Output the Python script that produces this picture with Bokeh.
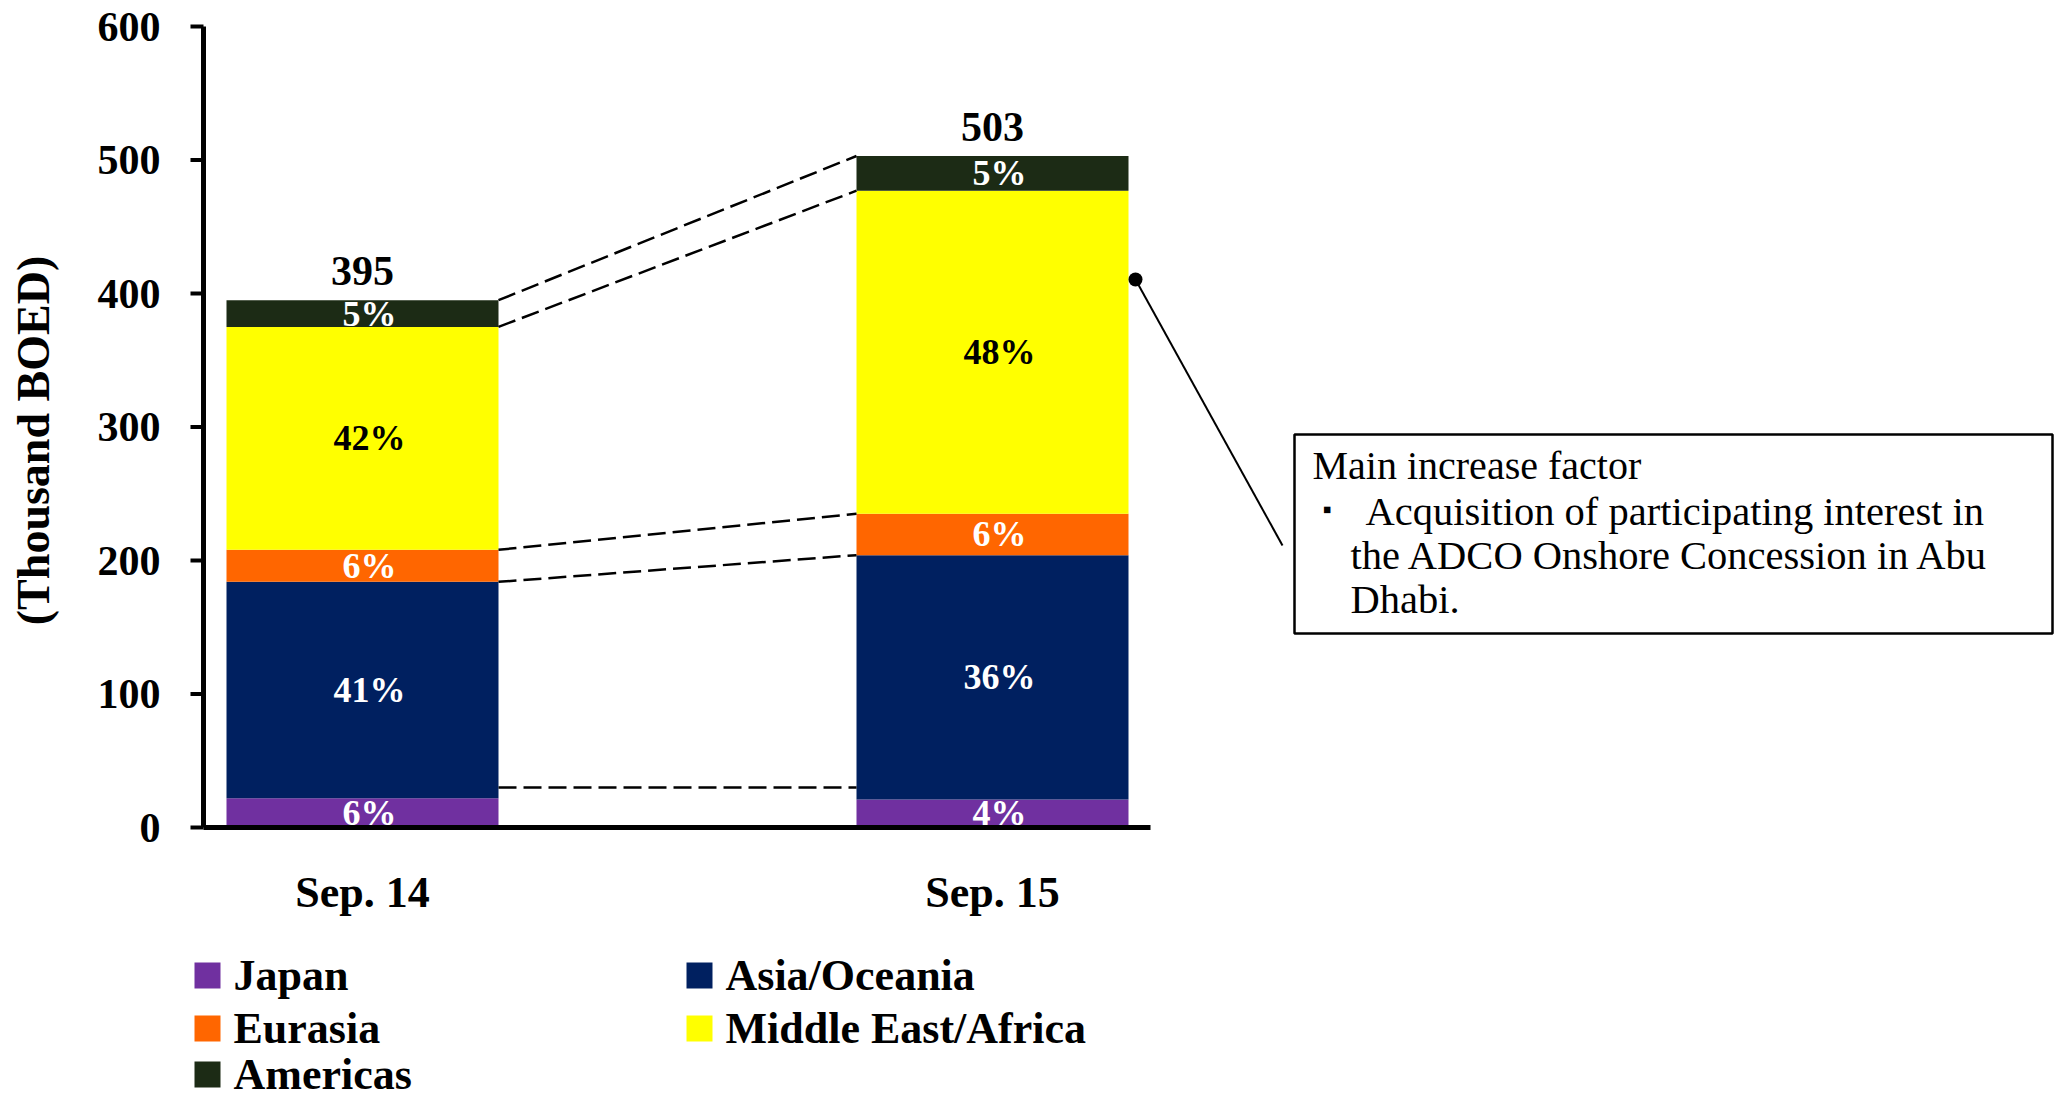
import math
from bokeh.plotting import figure
from bokeh.models import Range1d, ColumnDataSource
from bokeh.embed import file_html
from bokeh.resources import INLINE
from bokeh.core.properties import value

# ---- data (thousand BOED) ----
periods = ["Sep. 14", "Sep. 15"]
regions = ["Japan", "Asia/Oceania", "Eurasia", "Middle East/Africa", "Americas"]
region_colors = ["#7030A0", "#002060", "#FF6600", "#FFFF00", "#1C2B15"]
label_colors = ["white", "white", "white", "black", "white"]
japan = [22, 21]
asia_oceania = [162, 183]
eurasia = [24, 31]
middle_east_africa = [167, 242]
americas = [20, 26]
guide_level = 30
y_ticks = [0, 100, 200, 300, 400, 500, 600]
note_title = "Main increase factor"
note_lines = ["Acquisition of participating interest in",
              "the ADCO Onshore Concession in Abu",
              "Dhabi."]

series = [japan, asia_oceania, eurasia, middle_east_africa, americas]
totals = [sum(s[i] for s in series) for i in range(len(periods))]

# ---- page geometry (pixels) ----
W, H = 2056, 1105
ZERO_PX, TOP_PX = 827, 26
K = (ZERO_PX - TOP_PX) / y_ticks[-1]
BAR0_PX, STEP_PX, BAR_W_PX = 362, 630, 272


def fx(px):
    return (px - BAR0_PX) / STEP_PX


def fy(py):
    return (ZERO_PX - py) / K


SERIF = value("Liberation Serif")

p = figure(width=W, height=H, x_range=Range1d(fx(0), fx(W)),
           y_range=Range1d(fy(H), fy(0)), x_axis_type=None, y_axis_type=None,
           min_border=0, toolbar_location=None, output_backend="svg")
p.outline_line_color = None
p.background_fill_color = "white"
p.border_fill_color = "white"

bw = BAR_W_PX / STEP_PX
xs = list(range(len(periods)))
src = ColumnDataSource(dict(x=xs, **{r: s for r, s in zip(regions, series)}))
p.vbar_stack(regions, x="x", width=bw, color=region_colors, line_color=None, source=src)

# stacked segment labels (share of total)
lx, ly, lt, lc = [], [], [], []
for i in xs:
    base = 0
    for s, col in zip(series, label_colors):
        v = s[i]
        lx.append(i)
        ly.append(base + v / 2)
        lt.append(f"{int(v / totals[i] * 100 + 0.5)}%")
        lc.append(col)
        base += v
p.text(x=lx, y=ly, text=lt, text_color=lc, text_font=SERIF, text_font_style="bold",
       text_font_size="36px", text_align="center", text_baseline="middle", x_offset=7)

# totals above bars
p.text(x=xs, y=totals, text=[str(t) for t in totals], text_font=SERIF,
       text_font_style="bold", text_font_size="42px", text_align="center",
       text_baseline="alphabetic", y_offset=-29, text_color="black")

# dashed links between cumulative levels of the two bars
levels = []
for i in xs:
    c, acc = [], 0
    for s in series:
        acc += s[i]
        c.append(acc)
    levels.append(c)
y0s = [levels[0][k] for k in range(1, 5)] + [guide_level]
y1s = [levels[1][k] for k in range(1, 5)] + [guide_level]
p.segment(x0=[xs[0] + bw / 2] * 5, y0=y0s, x1=[xs[1] - bw / 2] * 5, y1=y1s,
          line_color="black", line_width=2.5, line_dash="18 7")

# axes
axis_x = fx(203)
p.segment(x0=[axis_x], y0=[0], x1=[axis_x], y1=[y_ticks[-1]], line_color="black", line_width=5)
p.segment(x0=[axis_x], y0=[0], x1=[fx(1150)], y1=[0], line_color="black", line_width=5)
p.segment(x0=[fx(190)] * len(y_ticks), y0=y_ticks, x1=[axis_x] * len(y_ticks), y1=y_ticks,
          line_color="black", line_width=4)
p.text(x=[fx(160)] * len(y_ticks), y=y_ticks, text=[str(t) for t in y_ticks],
       text_font=SERIF, text_font_style="bold", text_font_size="42px",
       text_align="right", text_baseline="middle", text_color="black")
p.text(x=xs, y=[fy(892)] * len(xs), text=periods, text_font=SERIF, text_font_style="bold",
       text_font_size="44px", text_align="center", text_baseline="middle", text_color="black")
p.text(x=[fx(33)], y=[fy(440)], text=["(Thousand BOED)"], angle=math.pi / 2,
       text_font=SERIF, text_font_style="bold", text_font_size="46px",
       text_align="center", text_baseline="middle", text_color="black")

# legend
leg_pos = [(194, 975), (686, 975), (194, 1028), (686, 1028), (194, 1074)]
for k, (lpx, lpy) in enumerate(leg_pos):
    p.scatter(x=[fx(lpx + 13)], y=[fy(lpy)], marker="square", size=26,
              fill_color=region_colors[k], line_color=None)
    p.text(x=[fx(lpx + 39)], y=[fy(lpy)], text=[regions[k]], text_font=SERIF,
           text_font_style="bold", text_font_size="44px", text_align="left",
           text_baseline="middle", text_color="black")

# callout and note box
p.segment(x0=[fx(1135)], y0=[fy(279)], x1=[fx(1282)], y1=[fy(545)],
          line_color="black", line_width=2)
p.scatter(x=[fx(1135)], y=[fy(279)], marker="circle", size=14,
          fill_color="black", line_color=None)
p.quad(left=[fx(1294)], right=[fx(2052)], top=[fy(434)], bottom=[fy(633)],
       fill_color=None, line_color="black", line_width=2.5)
p.text(x=[fx(1312)], y=[fy(465)], text=[note_title], text_font=SERIF,
       text_font_size="40px", text_align="left", text_baseline="middle", text_color="black")
p.text(x=[fx(1322)], y=[fy(509)], text=["\u25aa"], text_font=SERIF,
       text_font_size="26px", text_align="left", text_baseline="middle", text_color="black")
p.text(x=[fx(1365), fx(1350), fx(1350)], y=[fy(511), fy(555), fy(599)], text=note_lines,
       text_font=SERIF, text_font_size="40.5px", text_align="left", text_baseline="middle",
       text_color="black")

open("out.html", "w").write(file_html(p, INLINE))
